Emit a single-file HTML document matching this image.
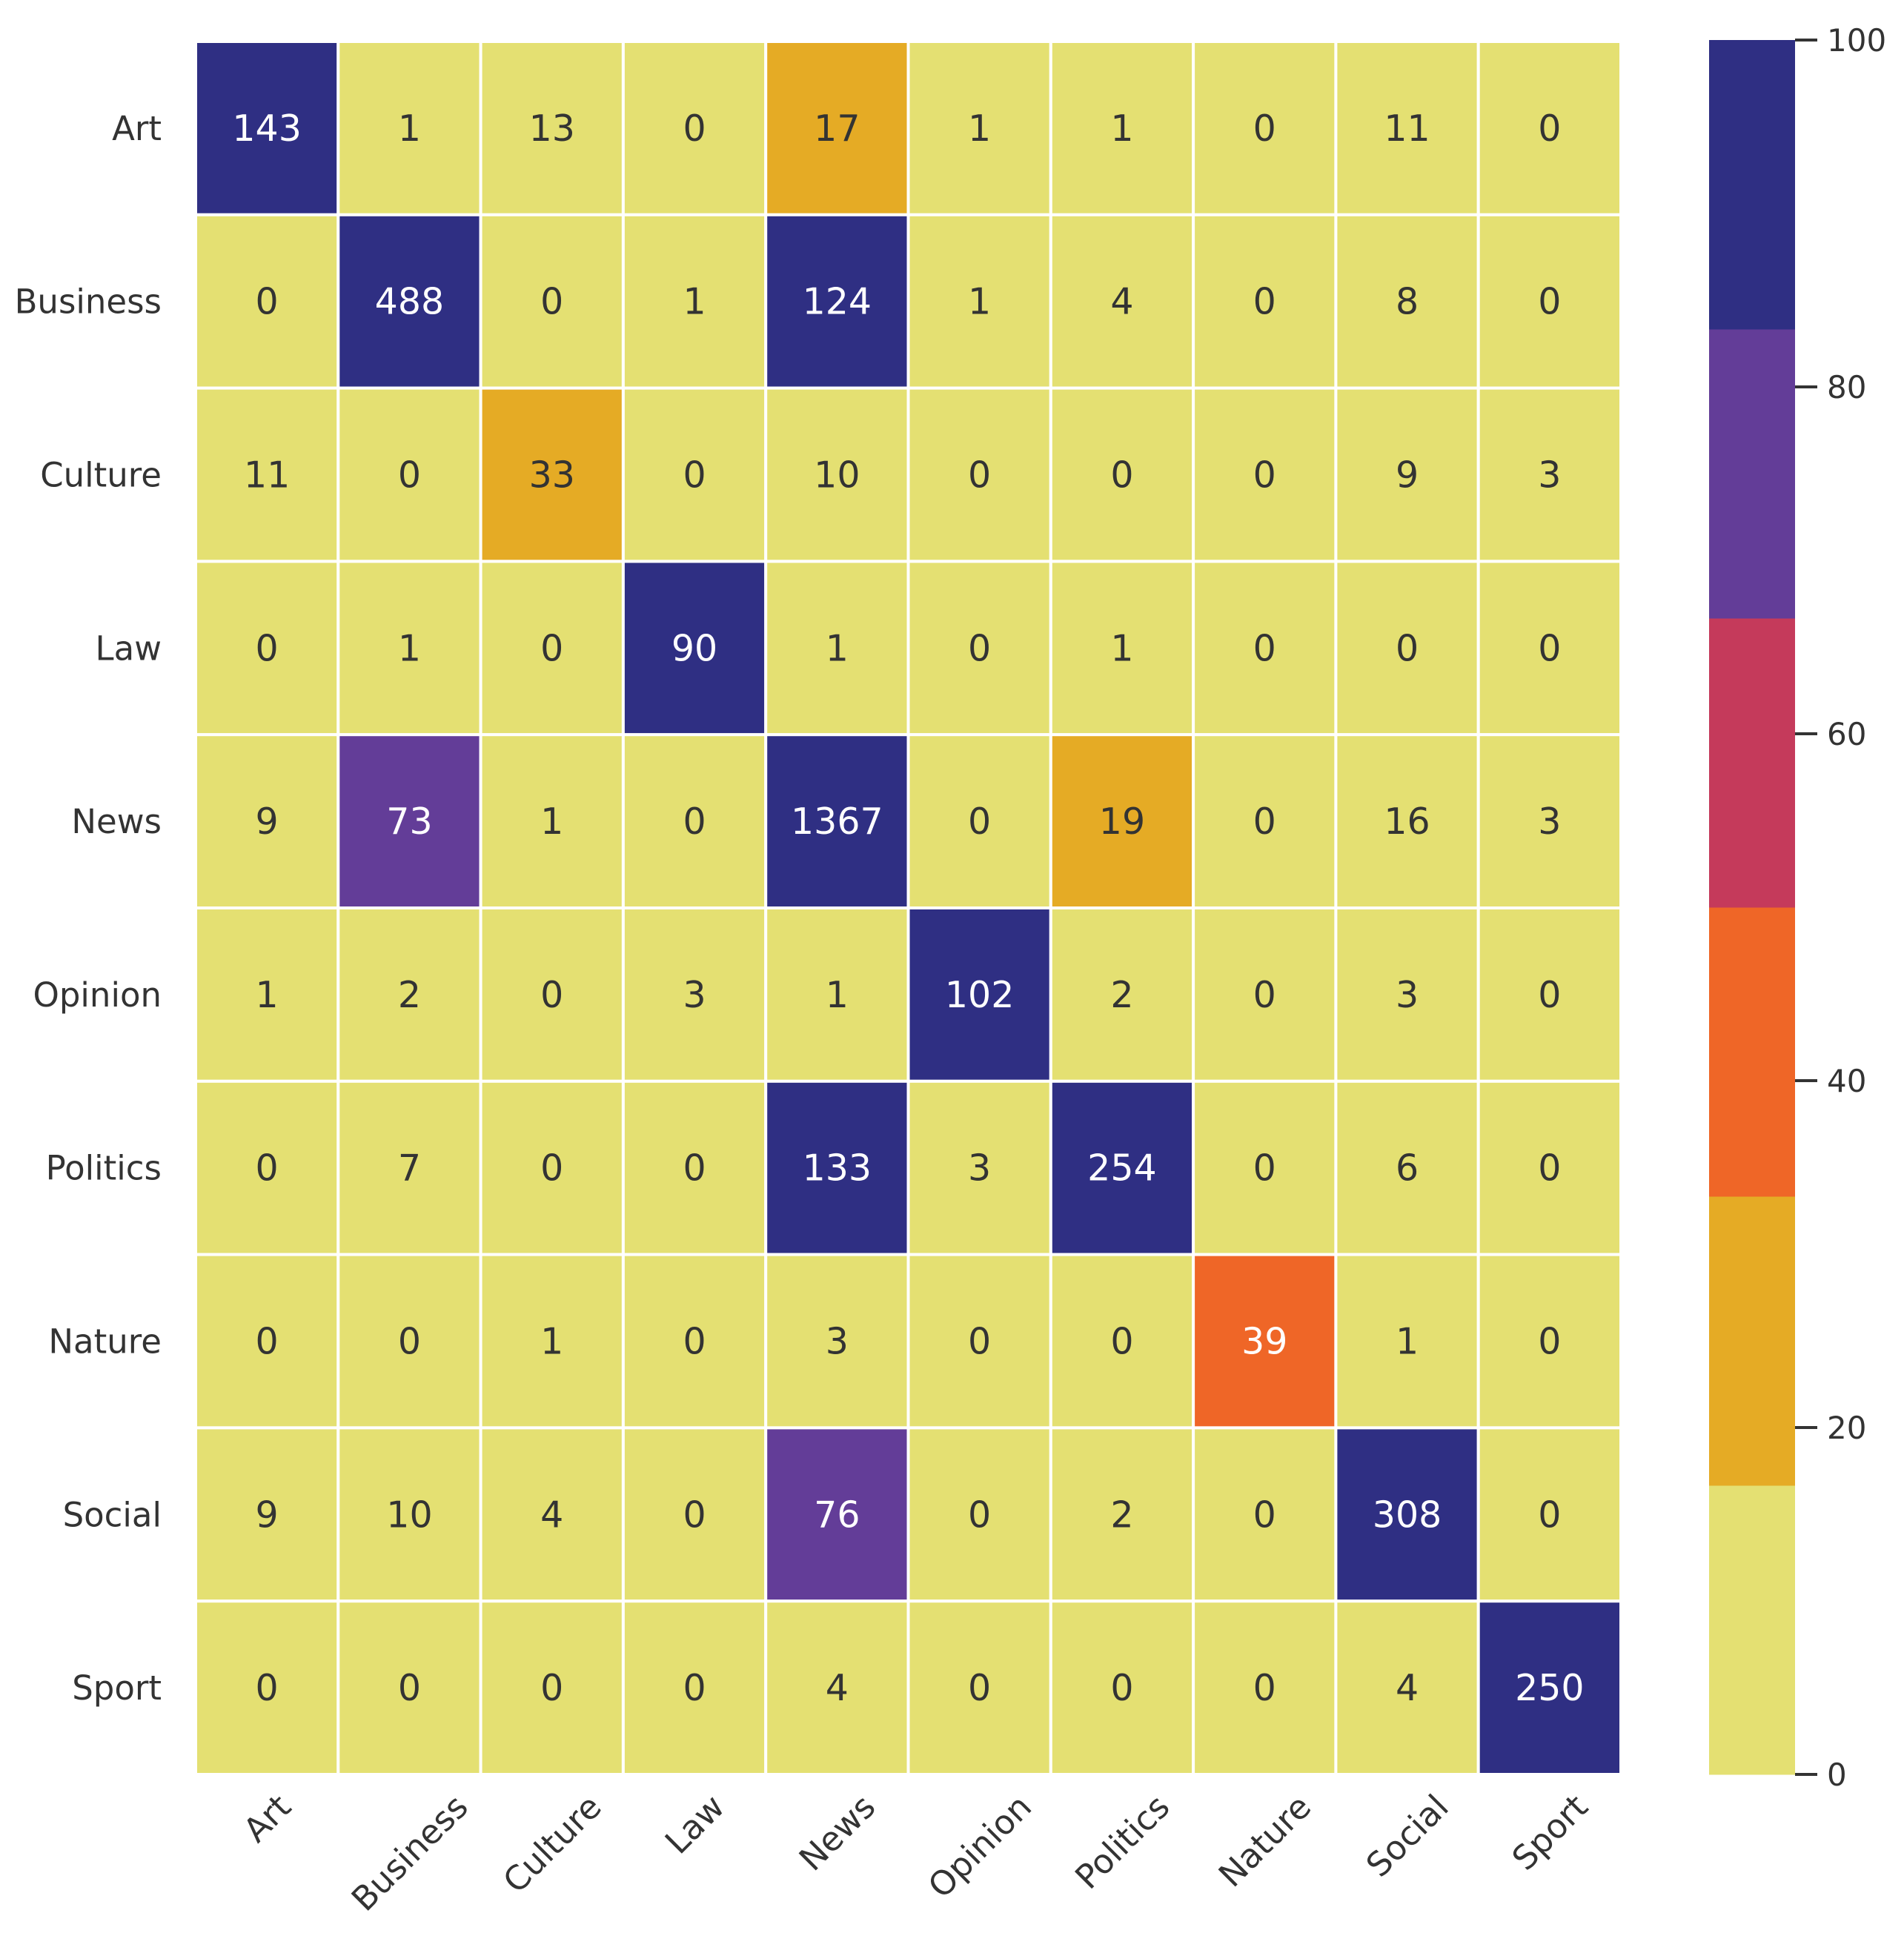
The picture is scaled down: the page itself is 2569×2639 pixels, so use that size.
<!DOCTYPE html>
<html><head><meta charset="utf-8">
<style>
html,body{margin:0;padding:0;background:#fff;}
svg{display:block;font-family:"DejaVu Sans","Liberation Sans",sans-serif;}
</style></head>
<body>
<svg id="chart" width="2569" height="2639" viewBox="0 0 2569 2639" xmlns="http://www.w3.org/2000/svg">
<g id="cells"></g>
<g id="ylabels"></g>
<g id="xlabels"></g>
<g id="cbar"></g>
</svg>
<script>
const categories = ["Art","Business","Culture","Law","News","Opinion","Politics","Nature","Social","Sport"];
const row0 = [143,1,13,0,17,1,1,0,11,0];
const row1 = [0,488,0,1,124,1,4,0,8,0];
const row2 = [11,0,33,0,10,0,0,0,9,3];
const row3 = [0,1,0,90,1,0,1,0,0,0];
const row4 = [9,73,1,0,1367,0,19,0,16,3];
const row5 = [1,2,0,3,1,102,2,0,3,0];
const row6 = [0,7,0,0,133,3,254,0,6,0];
const row7 = [0,0,1,0,3,0,0,39,1,0];
const row8 = [9,10,4,0,76,0,2,0,308,0];
const row9 = [0,0,0,0,4,0,0,0,4,250];
const matrix = [row0,row1,row2,row3,row4,row5,row6,row7,row8,row9];
const cbarTicks = [0,20,40,60,80,100];
const vmin = 0, vmax = 100;
const palette = ["#e4e072","#e5ab25","#ef6627","#c53a5b","#633d98","#2f2f83"];
const textOnPalette = ["#333333","#333333","#ffffff","#ffffff","#ffffff","#ffffff"];

const NS = "http://www.w3.org/2000/svg";
const X0 = 264, X1 = 2187, Y0 = 56, Y1 = 2394;
const n = categories.length;
const cw = (X1 - X0) / n, ch = (Y1 - Y0) / n;
function xPos(i){ return X0 + i * cw; }
function yPos(j){ return Y0 + j * ch; }
function band(v){ return Math.max(0, Math.min(palette.length - 1, Math.floor((v - vmin) / (vmax - vmin) * palette.length * 0.99999))); }
function mk(tag, attrs, parent){ const e = document.createElementNS(NS, tag); for (const k in attrs) e.setAttribute(k, attrs[k]); parent.appendChild(e); return e; }

const cells = document.getElementById('cells');
matrix.forEach((row, r) => {
  row.forEach((v, c) => {
    const b = band(v);
    const rect = mk('rect', {x: xPos(c), y: yPos(r), width: cw, height: ch, fill: palette[b], stroke: '#ffffff', 'stroke-width': 4}, cells);
    
    
    const t = mk('text', {x: xPos(c) + cw/2, y: yPos(r) + ch/2 + 17, 'text-anchor': 'middle', 'font-size': 49, fill: textOnPalette[b]}, cells);
    t.textContent = v;
    
    
  });
});

const yl = document.getElementById('ylabels');
categories.forEach((name, r) => {
  const t = mk('text', {x: X0 - 46, y: yPos(r) + ch/2 + 16, 'text-anchor': 'end', 'font-size': 45, fill: '#333333'}, yl);
  t.textContent = name;
  
  
});

const xl = document.getElementById('xlabels');
categories.forEach((name, c) => {
  const t = mk('text', {'text-anchor': 'middle', 'font-size': 45, fill: '#333333'}, xl);
  t.textContent = name;
  
  
  const L = t.getComputedTextLength();
  const half = (L + 32) * 0.7071 / 2;
  const cx = xPos(c) + cw/2, cy = Y1 + 24 + half;
  t.setAttribute('x', cx);
  t.setAttribute('y', cy + 16);
  t.setAttribute('transform', 'rotate(-45 ' + cx + ' ' + cy + ')');
});

const cb = document.getElementById('cbar');
const CX0 = 2306, CX1 = 2422, CY0 = 54, CY1 = 2394;
function cbY(v){ return CY1 - (v - vmin) / (vmax - vmin) * (CY1 - CY0); }
palette.forEach((col, i) => {
  const lo = vmin + (vmax - vmin) * i / palette.length;
  const hi = vmin + (vmax - vmin) * (i + 1) / palette.length;
  const r = mk('rect', {x: CX0, y: cbY(hi), width: CX1 - CX0, height: cbY(lo) - cbY(hi) + 0.5, fill: col}, cb);
  
  
});
cbarTicks.forEach(v => {
  const l = mk('line', {x1: CX1, x2: CX1 + 30, y1: cbY(v), y2: cbY(v), stroke: '#333333', 'stroke-width': 4}, cb);
  
  
  const t = mk('text', {x: CX1 + 43, y: cbY(v) + 15, 'font-size': 42, fill: '#333333'}, cb);
  t.textContent = v;
  
  
});
</script>
</body></html>
